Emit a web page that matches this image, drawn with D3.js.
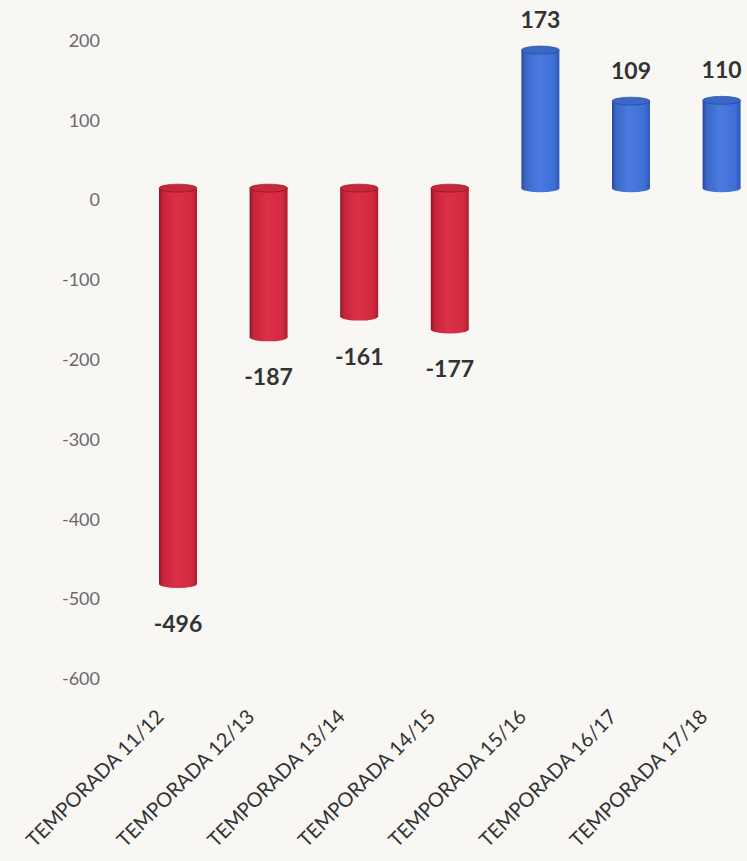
<!DOCTYPE html>
<html>
<head>
<meta charset="utf-8">
<script src="https://cdn.jsdelivr.net/npm/d3@7"></script>
<style>
  html, body { margin: 0; padding: 0; background: #f8f7f4; }
  svg { display: block; font-family: Lato, "Open Sans", sans-serif; }
</style>
</head>
<body>
<script>
// chart data
var categories = ["TEMPORADA 11/12", "TEMPORADA 12/13", "TEMPORADA 13/14", "TEMPORADA 14/15",
                  "TEMPORADA 15/16", "TEMPORADA 16/17", "TEMPORADA 17/18"];
var values = [-496, -187, -161, -177, 173, 109, 110];
var yTicks = [200, 100, 0, -100, -200, -300, -400, -500, -600];

// dimensions
var width = 747, height = 861;
var depth = 12;      // 3d floor offset of the cylinders
var barW = 38, ry = 4;

var svg = d3.select("body")
    .append("svg")
    .attr("width", width)
    .attr("height", height);

var x = d3.scaleBand().domain(categories).range([132.7, 132.7 + 7 * 90.6]).padding(0),
    y = d3.scaleLinear().domain([-600, 200]).range([679, 40.5]);

// cylinder shading
var defs = svg.append("defs");
function grad(id, stops) {
    var g = defs.append("linearGradient").attr("id", id)
        .attr("x1", "0%").attr("x2", "100%").attr("y1", "0%").attr("y2", "0%");
    stops.forEach(function(s) {
        g.append("stop").attr("offset", s[0]).attr("stop-color", s[1]);
    });
}
grad("redBody", [["0%", "#8e1624"], ["10%", "#c6243a"], ["45%", "#dc2f48"], ["85%", "#d22a3f"], ["100%", "#ac1f32"]]);
grad("blueBody", [["0%", "#24469a"], ["10%", "#3a66c8"], ["45%", "#4a7be0"], ["85%", "#3f6fd6"], ["100%", "#2f58b4"]]);

function cx(d, i) { return x(categories[i]) + x.bandwidth() / 2; }

// y axis labels (plain hyphen for negatives, like the original)
var yAxis = svg.append("g")
    .attr("transform", "translate(108,0)")
    .call(d3.axisLeft(y).tickValues(yTicks).tickSize(0).tickPadding(8)
        .tickFormat(function(d) { return String(d); }));
yAxis.select(".domain").remove();
yAxis.selectAll("text")
    .style("font-family", "Lato, sans-serif")
    .style("font-size", "18px")
    .style("fill", "#6a6a6a");

// cylinders
var bars = svg.selectAll(".bar")
    .data(values)
    .enter().append("g")
    .attr("class", "bar");

bars.each(function(v, i) {
    var g = d3.select(this);
    var c = cx(v, i);
    var top = Math.min(y(v), y(0)) - depth,
        bot = Math.max(y(v), y(0)) - depth;
    var body = v < 0 ? "url(#redBody)" : "url(#blueBody)";
    var edge = v < 0 ? "#7e1420" : "#22438f";
    var topFill = v < 0 ? "#c9283c" : "#3a68c9";

    g.append("ellipse")
        .attr("cx", c).attr("cy", bot)
        .attr("rx", barW / 2).attr("ry", ry)
        .attr("fill", body);
    g.append("rect")
        .attr("x", c - barW / 2).attr("y", top)
        .attr("width", barW).attr("height", bot - top)
        .attr("fill", body);
    g.append("ellipse")
        .attr("cx", c).attr("cy", top)
        .attr("rx", barW / 2).attr("ry", ry)
        .attr("fill", topFill)
        .attr("stroke", edge)
        .attr("stroke-width", 0.6);
});

// data labels
svg.selectAll(".val")
    .data(values)
    .enter().append("text")
    .attr("class", "val")
    .attr("x", cx)
    .attr("y", function(d) { return d < 0 ? y(d) + 36 : y(d) - 34; })
    .style("text-anchor", "middle")
    .style("font-size", "23px")
    .style("font-weight", "bold")
    .style("fill", "#333")
    .text(function(d) { return d; });

// x axis labels, rotated
var xAxis = svg.append("g")
    .attr("transform", "translate(0,718)")
    .call(d3.axisBottom(x).tickSize(0));
xAxis.select(".domain").remove();
xAxis.selectAll("text")
    .attr("x", 0).attr("y", 0).attr("dy", 0)
    .attr("transform", "translate(-13,0) rotate(-45)")
    .style("text-anchor", "end")
    .style("font-family", "Lato, sans-serif")
    .style("font-size", "20px")
    .style("fill", "#333");
</script>
</body>
</html>
